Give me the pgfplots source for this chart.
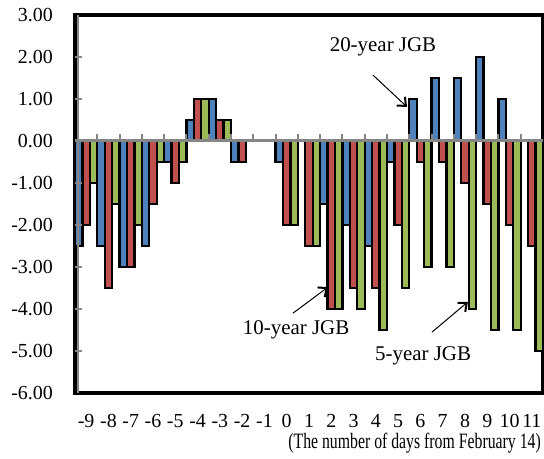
\documentclass[border=0pt]{standalone}
\usepackage{fontspec}
\setmainfont{Liberation Serif}
\usepackage{graphicx}
\usepackage{pgfplots}
\pgfplotsset{compat=1.18}
\usetikzlibrary{arrows.meta}
\definecolor{c20}{RGB}{79,129,189}
\definecolor{c10}{RGB}{192,80,77}
\definecolor{c5}{RGB}{155,187,89}
\definecolor{axgray}{RGB}{134,134,134}
\begin{document}
\begin{tikzpicture}
\useasboundingbox (-75bp,-66bp) rectangle (469bp,393bp);
\begin{axis}[
  at={(0,0)}, anchor=south west,
  scale only axis, width=468bp, height=378bp,
  xmin=-9.5, xmax=11.5, ymin=-6, ymax=3,
  xtick={-9,-8,-7,-6,-5,-4,-3,-2,-1,0,1,2,3,4,5,6,7,8,9,10,11},
  xticklabels={-9,-8,-7,-6,-5,-4,-3,-2,-1,0,1,2,3,4,5,6,7,8,9,10,11},
  ytick={-6,-5,-4,-3,-2,-1,0,1,2,3},
  /pgf/number format/assume math mode=true,
  yticklabel style={/pgf/number format/fixed, /pgf/number format/fixed zerofill, /pgf/number format/precision=2, anchor=east, inner sep=0pt, xshift=-22bp},
  xticklabel style={anchor=base, inner sep=0pt, yshift=-34bp},
  tick label style={font=\fontsize{20}{24}\selectfont},
  tick style={draw=none},
  axis line style={black, line width=3.5bp},
  clip=false,
]
\addplot[ybar, bar width=0.3333, bar shift=-0.3333, fill=c20, draw=black, line width=2.2bp] coordinates {
(-9,-2.5)(-8,-2.5)(-7,-3)(-6,-2.5)(-5,-0.5)(-4,0.5)(-3,1)(-2,-0.5)(0,-0.5)(2,-1.5)(3,-2)(4,-2.5)(5,-0.5)(6,1)(7,1.5)(8,1.5)(9,2)(10,1)};
\addplot[ybar, bar width=0.3333, bar shift=0, fill=c10, draw=black, line width=2.2bp] coordinates {
(-9,-2)(-8,-3.5)(-7,-3)(-6,-1.5)(-5,-1)(-4,1)(-3,0.5)(-2,-0.5)(0,-2)(1,-2.5)(2,-4)(3,-3.5)(4,-3.5)(5,-2)(6,-0.5)(7,-0.5)(8,-1)(9,-1.5)(10,-2)(11,-2.5)};
\addplot[ybar, bar width=0.3333, bar shift=0.3333, fill=c5, draw=black, line width=2.2bp] coordinates {
(-9,-1)(-8,-1.5)(-7,-2)(-6,-0.5)(-5,-0.5)(-4,1)(-3,0.5)(0,-2)(1,-2.5)(2,-4)(3,-4)(4,-4.5)(5,-3.5)(6,-3)(7,-3)(8,-4)(9,-4.5)(10,-4.5)(11,-5)};
\draw[axgray, line width=3bp] (axis cs:-9.5,0) -- (axis cs:11.5,0);
\pgfplotsinvokeforeach{-8.5,-7.5,-6.5,-5.5,-4.5,-3.5,-2.5,-1.5,-0.5,0.5,1.5,2.5,3.5,4.5,5.5,6.5,7.5,8.5,9.5,10.5}{
  \draw[axgray, line width=2bp] (axis cs:#1,0) -- (axis cs:#1,0.17);
}
\pgfplotsinvokeforeach{-5,-4,-3,-2,-1,1,2}{
  \draw[axgray, line width=2bp] (axis cs:-9.5,#1) -- (axis cs:-9.185,#1);
}
\draw[axgray, line width=2bp] (axis cs:-9.383,-6) -- (axis cs:-9.383,3);
\node[font=\fontsize{21}{24}\selectfont] at (axis cs:4.32,2.24) {20-year JGB};
\node[font=\fontsize{21}{24}\selectfont] at (axis cs:0.42,-4.5) {10-year JGB};
\node[font=\fontsize{21}{24}\selectfont] at (axis cs:6.12,-5.12) {5-year JGB};
\draw[line width=1bp, -{Straight Barb[length=7bp,width=12bp,line width=2bp]}] (axis cs:3.87,1.57) -- (axis cs:5.40,0.81);
\draw[line width=1bp, -{Straight Barb[length=7bp,width=12bp,line width=2bp]}] (axis cs:0.28,-4.10) -- (axis cs:1.85,-3.48);
\draw[line width=1bp, -{Straight Barb[length=7bp,width=12bp,line width=2bp]}] (axis cs:6.52,-4.55) -- (axis cs:8.13,-3.83);
\node[anchor=base east, font=\fontsize{22}{26}\selectfont, inner sep=0pt] at (axis cs:11.41,-7.33) {\scalebox{0.72}[1]{(The number of days from February 14)}};
\end{axis}
\end{tikzpicture}
\end{document}
